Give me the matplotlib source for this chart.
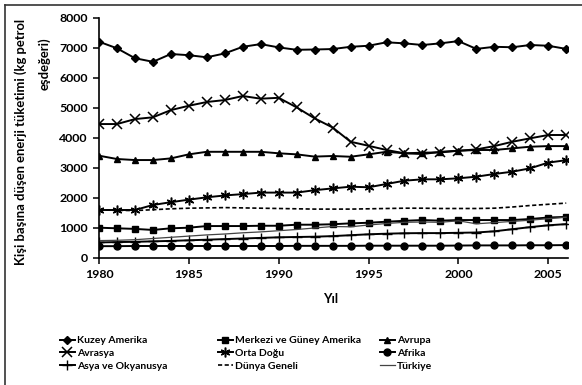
import matplotlib.pyplot as plt
from matplotlib.lines import Line2D

plt.rcParams['font.family'] = ['Lato', 'DejaVu Sans']

years = list(range(1980, 2007))

kuzey_amerika = [7200, 6980, 6650, 6530, 6790, 6750, 6680, 6810, 7030, 7120, 7010, 6930, 6940,
                 6955, 7030, 7065, 7180, 7145, 7090, 7145, 7220, 6960, 7030, 7015, 7090, 7065, 6960]
merkezi_guney_amerika = [1000, 980, 960, 925, 980, 1000, 1055, 1055, 1055, 1065, 1065, 1100, 1100,
                         1115, 1145, 1165, 1200, 1230, 1255, 1235, 1255, 1255, 1255, 1255, 1290, 1340, 1360]
avrupa = [3400, 3290, 3255, 3255, 3310, 3445, 3530, 3530, 3530, 3530, 3480, 3445, 3370,
          3390, 3365, 3445, 3530, 3480, 3500, 3510, 3565, 3590, 3590, 3645, 3700, 3720, 3720]
avrasya = [4455, 4455, 4620, 4680, 4920, 5065, 5190, 5255, 5390, 5300, 5330, 5010, 4645,
           4340, 3865, 3730, 3590, 3480, 3455, 3530, 3565, 3610, 3720, 3865, 3980, 4090, 4090]
orta_dogu = [1590, 1590, 1590, 1757, 1850, 1935, 2013, 2075, 2120, 2170, 2170, 2170, 2250,
             2310, 2367, 2347, 2457, 2567, 2613, 2613, 2647, 2700, 2790, 2867, 2980, 3170, 3250]
afrika = [385, 385, 390, 390, 390, 390, 390, 390, 390, 390, 390, 395, 395,
          395, 395, 400, 400, 400, 400, 400, 405, 410, 410, 410, 415, 415, 420]
asya_okyanusya = [510, 520, 530, 545, 560, 580, 600, 620, 640, 660, 680, 690, 700,
                  720, 750, 780, 800, 815, 820, 820, 830, 840, 880, 950, 1020, 1080, 1120]
dunya_geneli = [1590, 1580, 1570, 1600, 1630, 1650, 1660, 1670, 1660, 1650, 1640, 1630, 1620,
                1620, 1620, 1630, 1640, 1650, 1650, 1640, 1640, 1640, 1650, 1690, 1740, 1780, 1820]
turkiye = [570, 580, 600, 640, 680, 720, 760, 790, 830, 860, 900, 940, 990,
           1040, 1030, 1090, 1140, 1180, 1190, 1180, 1230, 1130, 1170, 1210, 1250, 1300, 1350]

W, H = 582, 385
fig = plt.figure(figsize=(W / 100, H / 100), dpi=100)
renderer = fig.canvas.get_renderer()


def size_for(text, px, rot=0):
    # font size (bold) that makes text span px pixels
    t = fig.text(0, 0, text, fontsize=10, fontweight='bold', rotation=rot)
    bb = t.get_window_extent(renderer)
    w = bb.height if rot else bb.width
    t.remove()
    return 10 * px / w


fs_tick = size_for('8000', 29)
fs_leg = size_for('Merkezi ve Güney Amerika', 126)
fs_ylab = size_for('Kişi başına düşen enerji tüketimi (kg petrol', 245, rot=90)

ax = fig.add_axes([99 / W, 1 - 257.7 / H, 469 / W, 240 / H])

lw = 1.4
h_ka, = ax.plot(years, kuzey_amerika, color='black', lw=lw, marker='D', ms=4)
h_mg, = ax.plot(years, merkezi_guney_amerika, color='black', lw=lw, marker='s', ms=4.5)
h_av, = ax.plot(years, avrupa, color='black', lw=lw, marker='^', ms=5)
h_ar, = ax.plot(years, avrasya, color='black', lw=lw, marker='x', ms=6.5, mew=1.1)
h_od, = ax.plot(years, orta_dogu, color='black', lw=lw, marker=(6, 2, 0), ms=7, mew=1.1)
h_af, = ax.plot(years, afrika, color='black', lw=lw, marker='o', ms=5)
h_as, = ax.plot(years, asya_okyanusya, color='black', lw=lw, marker='+', ms=7, mew=1)
h_dg, = ax.plot(years, dunya_geneli, color='black', lw=1.2, ls=(0, (2.5, 1.5)))
h_tr, = ax.plot(years, turkiye, color='#444444', lw=0.9)

ax.set_xlim(1980, 2006.1)
ax.set_ylim(0, 8000)
ax.set_yticks(range(0, 8001, 1000))
ax.set_xticks(range(1980, 2006, 5))
for s in ['top', 'right']:
    ax.spines[s].set_visible(False)
for s in ['left', 'bottom']:
    ax.spines[s].set_linewidth(1.2)
ax.tick_params(direction='out', length=4, width=1.1, labelsize=fs_tick, pad=4)
for lab in ax.get_xticklabels() + ax.get_yticklabels():
    lab.set_fontweight('bold')

# y label: two lines placed like the original (second line sits near the top)
fig.text(21 / W, 1 - 142 / H, 'Kişi başına düşen enerji tüketimi (kg petrol', rotation=90,
         ha='center', va='center', fontsize=fs_ylab, fontweight='bold')
fig.text(44 / W, 1 - 64 / H, 'eşdeğeri)', rotation=90, ha='center', va='center',
         fontsize=fs_ylab, fontweight='bold')
fig.text(331 / W, 1 - 299 / H, 'Yıl', ha='center', va='center', fontsize=fs_ylab, fontweight='bold')

cols = [
    ([h_ka, h_ar, h_as], ['Kuzey Amerika', 'Avrasya', 'Asya ve Okyanusya'], 60 / W),
    ([h_mg, h_od, h_dg], ['Merkezi ve Güney Amerika', 'Orta Doğu', 'Dünya Geneli'], 218 / W),
    ([h_av, h_af, h_tr], ['Avrupa', 'Afrika', 'Türkiye'], 380 / W),
]
for hs, labels, x in cols:
    fig.legend(hs, labels, loc='upper left', bbox_to_anchor=(x, 1 - 336 / H), frameon=False,
               handlelength=1.4, handletextpad=0.2, labelspacing=0.33,
               borderaxespad=0, borderpad=0, prop={'weight': 'bold', 'size': fs_leg})

fig.add_artist(Line2D([5 / W, 1.0], [1 - 5 / H, 1 - 5 / H], transform=fig.transFigure, color='#333333', lw=1.2))
fig.add_artist(Line2D([5 / W, 5 / W], [0.0, 1 - 5 / H], transform=fig.transFigure, color='#333333', lw=1.2))

fig.savefig('out.png', dpi=100)
